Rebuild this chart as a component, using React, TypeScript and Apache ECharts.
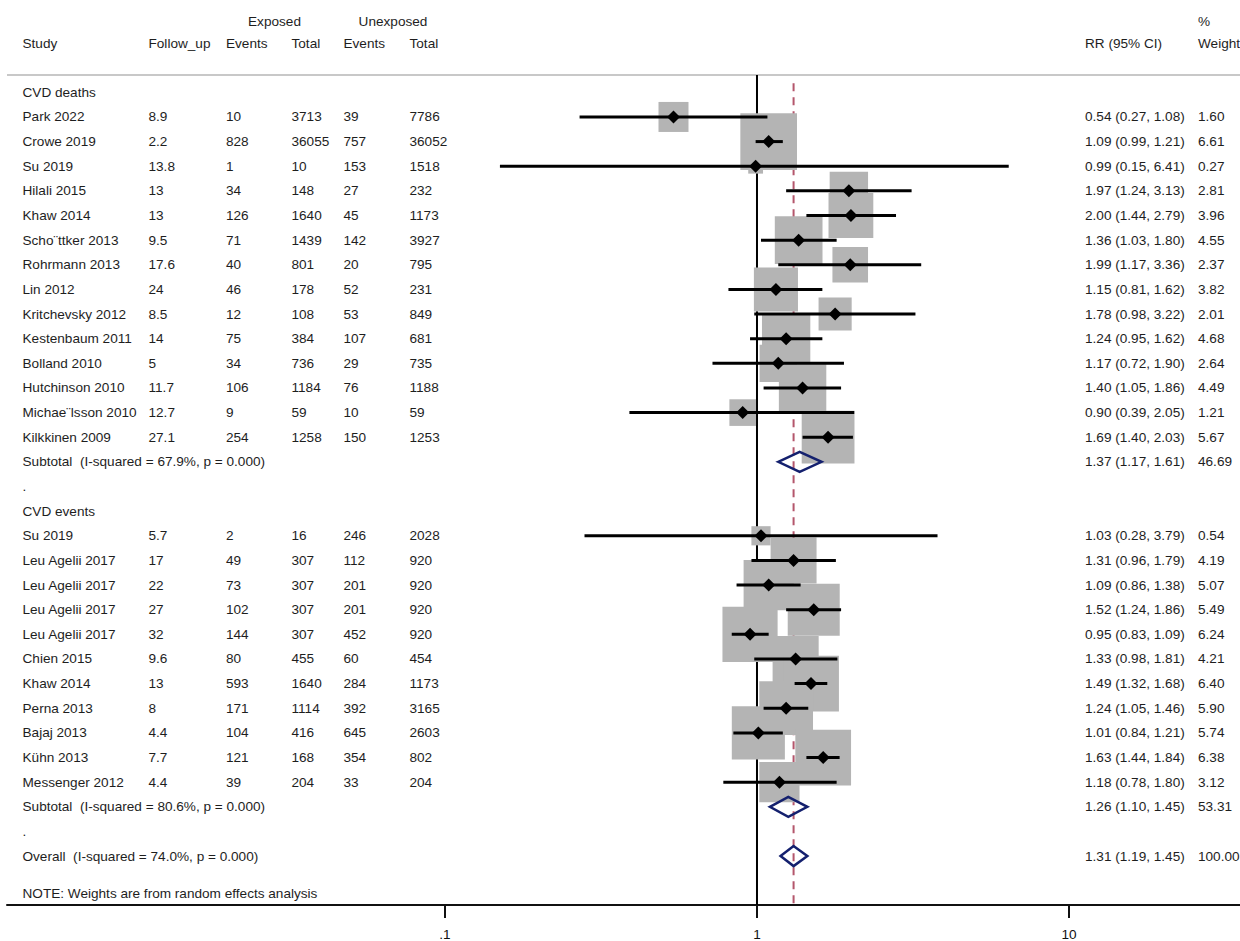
import React, { useEffect, useRef } from "react";
import * as echarts from "echarts";

// ---------- data ----------
const groupLabels = ["CVD deaths", "CVD events"];

const g1Study = ["Park 2022", "Crowe 2019", "Su 2019", "Hilali 2015", "Khaw 2014", "Scho\u00a8ttker 2013", "Rohrmann 2013", "Lin 2012", "Kritchevsky 2012", "Kestenbaum 2011", "Bolland 2010", "Hutchinson 2010", "Michae\u00a8lsson 2010", "Kilkkinen 2009"];
const g1FollowUp = [8.9, 2.2, 13.8, 13, 13, 9.5, 17.6, 24, 8.5, 14, 5, 11.7, 12.7, 27.1];
const g1ExpEvents = [10, 828, 1, 34, 126, 71, 40, 46, 12, 75, 34, 106, 9, 254];
const g1ExpTotal = [3713, 36055, 10, 148, 1640, 1439, 801, 178, 108, 384, 736, 1184, 59, 1258];
const g1UnexpEvents = [39, 757, 153, 27, 45, 142, 20, 52, 53, 107, 29, 76, 10, 150];
const g1UnexpTotal = [7786, 36052, 1518, 232, 1173, 3927, 795, 231, 849, 681, 735, 1188, 59, 1253];
const g1RR = [0.54, 1.09, 0.99, 1.97, 2.0, 1.36, 1.99, 1.15, 1.78, 1.24, 1.17, 1.4, 0.9, 1.69];
const g1Lo = [0.27, 0.99, 0.15, 1.24, 1.44, 1.03, 1.17, 0.81, 0.98, 0.95, 0.72, 1.05, 0.39, 1.4];
const g1Hi = [1.08, 1.21, 6.41, 3.13, 2.79, 1.8, 3.36, 1.62, 3.22, 1.62, 1.9, 1.86, 2.05, 2.03];
const g1Weight = [1.6, 6.61, 0.27, 2.81, 3.96, 4.55, 2.37, 3.82, 2.01, 4.68, 2.64, 4.49, 1.21, 5.67];

const g2Study = ["Su 2019", "Leu Agelii 2017", "Leu Agelii 2017", "Leu Agelii 2017", "Leu Agelii 2017", "Chien 2015", "Khaw 2014", "Perna 2013", "Bajaj 2013", "K\u00fchn 2013", "Messenger 2012"];
const g2FollowUp = [5.7, 17, 22, 27, 32, 9.6, 13, 8, 4.4, 7.7, 4.4];
const g2ExpEvents = [2, 49, 73, 102, 144, 80, 593, 171, 104, 121, 39];
const g2ExpTotal = [16, 307, 307, 307, 307, 455, 1640, 1114, 416, 168, 204];
const g2UnexpEvents = [246, 112, 201, 201, 452, 60, 284, 392, 645, 354, 33];
const g2UnexpTotal = [2028, 920, 920, 920, 920, 454, 1173, 3165, 2603, 802, 204];
const g2RR = [1.03, 1.31, 1.09, 1.52, 0.95, 1.33, 1.49, 1.24, 1.01, 1.63, 1.18];
const g2Lo = [0.28, 0.96, 0.86, 1.24, 0.83, 0.98, 1.32, 1.05, 0.84, 1.44, 0.78];
const g2Hi = [3.79, 1.79, 1.38, 1.86, 1.09, 1.81, 1.68, 1.46, 1.21, 1.84, 1.8];
const g2Weight = [0.54, 4.19, 5.07, 5.49, 6.24, 4.21, 6.4, 5.9, 5.74, 6.38, 3.12];

const subI2 = ["67.9%", "80.6%"];
const subP = ["0.000", "0.000"];
const subRR = [1.37, 1.26];
const subLo = [1.17, 1.1];
const subHi = [1.61, 1.45];
const subWeight = [46.69, 53.31];

const overallI2 = "74.0%";
const overallP = "0.000";
const overallRR = 1.31;
const overallLo = 1.19;
const overallHi = 1.45;
const overallWeight = 100.0;

const noteText = "NOTE: Weights are from random effects analysis";

const tickValues = [0.1, 1, 10];
const tickLabels = [".1", "1", "10"];

// ---------- layout / style ----------
const FONT = "Liberation Sans, Arial, Helvetica, sans-serif";
const FS = 13.6;
const TXT = "#1e1e1e";
const COLS = { study: 22.5, fu: 148.5, e1: 226, t1: 291.5, e2: 343.5, t2: 409.5, rr: 1085, w: 1198 };

const X_MIN = -2.4038;
const X_MAX = 1.5481;
const Y_MIN = -0.7027;
const Y_MAX = 32.986;

const fmt2 = (v: number) => v.toFixed(2);
const ciText = (r: number, l: number, h: number) => `${fmt2(r)} (${fmt2(l)}, ${fmt2(h)})`;

type Row = { row: number; cells: { [k: string]: string } };

function buildRows() {
  const rows: Row[] = [];
  const studies: number[][] = []; // [logRR, row, weight, logLo, logHi]
  const pooled: number[][] = []; // [logLo, logHi, logRR, row]
  let r = 0;
  const groups = [
    { s: g1Study, fu: g1FollowUp, e1: g1ExpEvents, t1: g1ExpTotal, e2: g1UnexpEvents, t2: g1UnexpTotal, rr: g1RR, lo: g1Lo, hi: g1Hi, w: g1Weight },
    { s: g2Study, fu: g2FollowUp, e1: g2ExpEvents, t1: g2ExpTotal, e2: g2UnexpEvents, t2: g2UnexpTotal, rr: g2RR, lo: g2Lo, hi: g2Hi, w: g2Weight },
  ];
  groups.forEach((g, gi) => {
    rows.push({ row: r++, cells: { study: groupLabels[gi] } });
    g.s.forEach((name, i) => {
      rows.push({
        row: r,
        cells: {
          study: name,
          fu: String(g.fu[i]),
          e1: String(g.e1[i]),
          t1: String(g.t1[i]),
          e2: String(g.e2[i]),
          t2: String(g.t2[i]),
          rr: ciText(g.rr[i], g.lo[i], g.hi[i]),
          w: fmt2(g.w[i]),
        },
      });
      studies.push([Math.log10(g.rr[i]), r, g.w[i], Math.log10(g.lo[i]), Math.log10(g.hi[i])]);
      r++;
    });
    rows.push({
      row: r,
      cells: {
        study: `Subtotal\u00a0 (I-squared = ${subI2[gi]}, p = ${subP[gi]})`,
        rr: ciText(subRR[gi], subLo[gi], subHi[gi]),
        w: fmt2(subWeight[gi]),
      },
    });
    pooled.push([Math.log10(subLo[gi]), Math.log10(subHi[gi]), Math.log10(subRR[gi]), r]);
    r++;
    rows.push({ row: r++, cells: { study: "." } });
  });
  rows.push({
    row: r,
    cells: {
      study: `Overall\u00a0 (I-squared = ${overallI2}, p = ${overallP})`,
      rr: ciText(overallRR, overallLo, overallHi),
      w: fmt2(overallWeight),
    },
  });
  pooled.push([Math.log10(overallLo), Math.log10(overallHi), Math.log10(overallRR), r]);
  rows.push({ row: r + 1.5, cells: { study: noteText } });
  return { rows, studies, pooled };
}

export default function App() {
  const ref = useRef<HTMLDivElement>(null);

  useEffect(() => {
    if (!ref.current) return;
    const chart = echarts.init(ref.current, undefined, { renderer: "svg" });
    const { rows, studies, pooled } = buildRows();
    const logRef = Math.log10(overallRR);
    const tickLogs = tickValues.map((v) => Math.log10(v));

    const textStyle = (text: string, x: number, y: number, align: string) => ({
      type: "text",
      x,
      y,
      style: {
        text,
        fill: TXT,
        fontSize: FS,
        fontFamily: FONT,
        align,
        textAlign: align,
        verticalAlign: "middle",
        textVerticalAlign: "middle",
      },
    });

    const headerTexts: any[] = [
      textStyle("Exposed", 274.5, 21, "center"),
      textStyle("Unexposed", 393, 21, "center"),
      textStyle("%", COLS.w, 21, "left"),
      textStyle("Study", COLS.study, 43, "left"),
      textStyle("Follow_up", COLS.fu, 43, "left"),
      textStyle("Events", COLS.e1, 43, "left"),
      textStyle("Total", COLS.t1, 43, "left"),
      textStyle("Events", COLS.e2, 43, "left"),
      textStyle("Total", COLS.t2, 43, "left"),
      textStyle("RR (95% CI)", COLS.rr, 43, "left"),
      textStyle("Weight", COLS.w, 43, "left"),
      {
        type: "line",
        shape: { x1: 7, y1: 75, x2: 1240, y2: 75 },
        style: { stroke: "#c8c8c8", lineWidth: 2 },
      },
    ];

    const option: any = {
      animation: false,
      grid: { left: 7, right: 0, top: 75, bottom: 35, containLabel: false },
      xAxis: {
        type: "value",
        min: X_MIN,
        max: X_MAX,
        splitLine: { show: false },
        axisLine: { show: true, onZero: false, lineStyle: { color: "#111", width: 2 } },
        axisTick: { show: true, customValues: tickLogs, length: 13, lineStyle: { color: "#111", width: 2 } },
        axisLabel: {
          show: true,
          customValues: tickLogs,
          margin: 22,
          color: "#111",
          fontSize: FS,
          fontFamily: FONT,
          formatter: (v: number) => {
            let best = 0;
            tickLogs.forEach((t, i) => {
              if (Math.abs(t - v) < Math.abs(tickLogs[best] - v)) best = i;
            });
            return tickLabels[best];
          },
        },
      },
      yAxis: {
        type: "value",
        inverse: true,
        min: Y_MIN,
        max: Y_MAX,
        show: false,
        splitLine: { show: false },
      },
      graphic: headerTexts,
      series: [
        {
          type: "line",
          data: [
            [0, Y_MIN],
            [0, Y_MAX],
          ],
          symbol: "none",
          lineStyle: { color: "#000", width: 2 },
          z: 1,
          silent: true,
        },
        {
          type: "line",
          data: [
            [logRef, Y_MIN + 0.33],
            [logRef, Y_MAX],
          ],
          symbol: "none",
          lineStyle: { color: "#b4566c", width: 2, type: [8, 6] },
          z: 1,
          silent: true,
        },
        {
          type: "custom",
          z: 2,
          silent: true,
          data: studies,
          renderItem: (params: any, api: any) => {
            const c = api.coord([api.value(0), api.value(1)]);
            const side = 4.2 + 20.4 * Math.sqrt(api.value(2));
            return {
              type: "rect",
              shape: { x: c[0] - side / 2, y: c[1] - side / 2, width: side, height: side },
              style: { fill: "#b4b4b4" },
            };
          },
        },
        {
          type: "custom",
          z: 3,
          silent: true,
          data: studies,
          renderItem: (params: any, api: any) => {
            const row = api.value(1);
            const a = api.coord([api.value(3), row]);
            const b = api.coord([api.value(4), row]);
            const c = api.coord([api.value(0), row]);
            const h = 6.5;
            return {
              type: "group",
              children: [
                {
                  type: "line",
                  shape: { x1: a[0], y1: a[1], x2: b[0], y2: b[1] },
                  style: { stroke: "#000", lineWidth: 3 },
                },
                {
                  type: "polygon",
                  shape: {
                    points: [
                      [c[0] - h, c[1]],
                      [c[0], c[1] - h],
                      [c[0] + h, c[1]],
                      [c[0], c[1] + h],
                    ],
                  },
                  style: { fill: "#000" },
                },
              ],
            };
          },
        },
        {
          type: "custom",
          z: 4,
          silent: true,
          data: pooled,
          renderItem: (params: any, api: any) => {
            const row = api.value(3);
            const l = api.coord([api.value(0), row]);
            const h = api.coord([api.value(1), row]);
            const c = api.coord([api.value(2), row]);
            const hh = 10;
            return {
              type: "polygon",
              shape: {
                points: [
                  [l[0], l[1]],
                  [c[0], c[1] - hh],
                  [h[0], h[1]],
                  [c[0], c[1] + hh],
                ],
              },
              style: { fill: "none", stroke: "#14206e", lineWidth: 2.5 },
            };
          },
        },
        {
          type: "custom",
          z: 5,
          silent: true,
          data: rows.map((r) => [0, r.row]),
          renderItem: (params: any, api: any) => {
            const row = rows[params.dataIndex];
            const y = api.coord([0, api.value(1)])[1];
            const children: any[] = [];
            Object.keys(row.cells).forEach((k) => {
              children.push(textStyle(row.cells[k], (COLS as any)[k], y, "left"));
            });
            return { type: "group", children };
          },
        },
      ],
    };
    chart.setOption(option);
    return () => chart.dispose();
  }, []);

  return (
    <div
      ref={ref}
      style={{ position: "absolute", left: 0, top: 0, width: 1240, height: 941, background: "#fff" }}
    />
  );
}
